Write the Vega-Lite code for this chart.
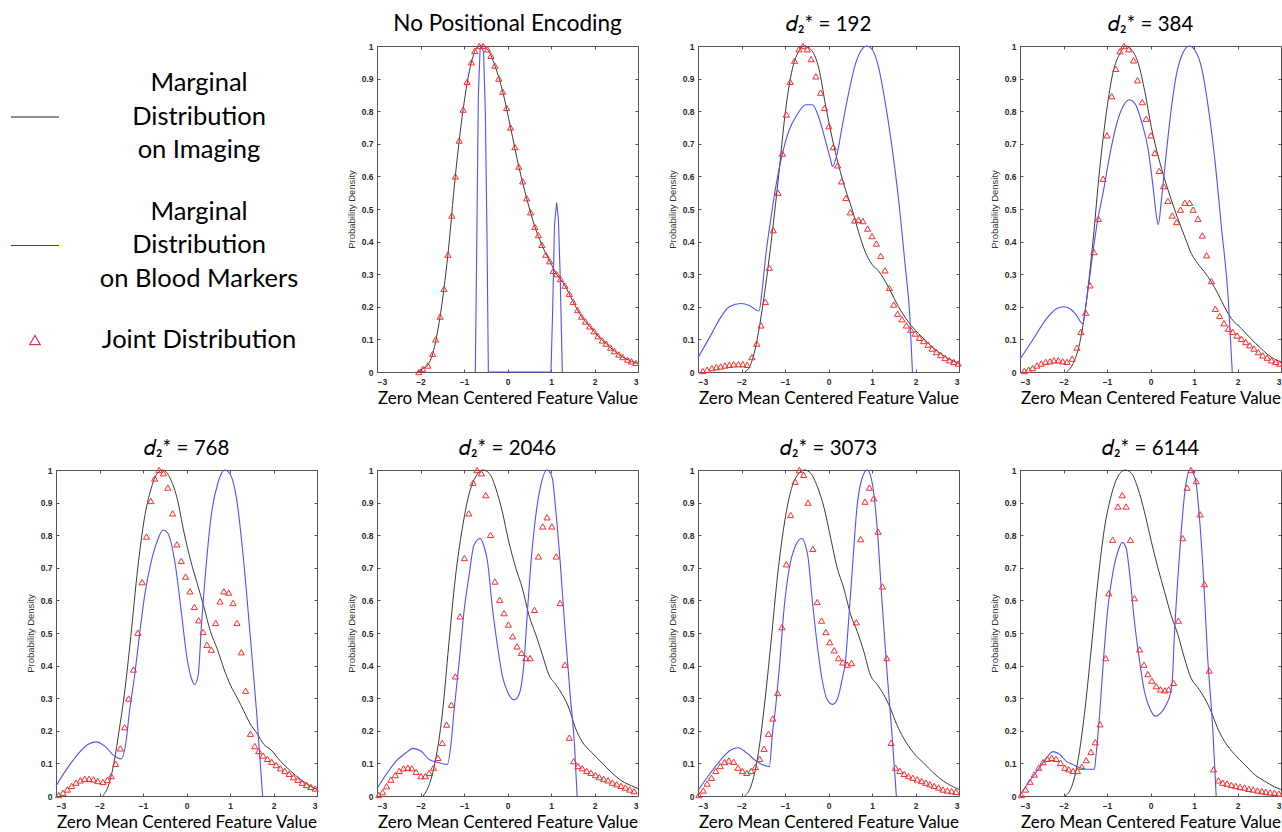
{
"$schema": "https://vega.github.io/schema/vega-lite/v6.json",
"padding": {"left": 8, "top": 12, "right": 0, "bottom": 0},
"background": "white",
"config": {
  "font": "Liberation Sans",
  "view": {"stroke": "#555555", "strokeWidth": 1},
  "axis": {"grid": false, "domain": false, "ticks": true, "tickSize": -3, "tickColor": "#555555", "labelFont": "Liberation Sans", "labelFontSize": 8.5, "labelFontWeight": "bold", "labelColor": "#2a2a2a"},
  "axisX": {"labelPadding": 8, "titleFont": "Lato", "titleFontSize": 17, "titleFontWeight": "normal", "titleColor": "#000000", "titlePadding": 5},
  "axisY": {"labelPadding": 7, "titleFont": "Liberation Sans", "titleFontSize": 9.5, "titleFontWeight": "normal", "titleColor": "#333333", "titlePadding": 5},
  "title": {"font": "Lato", "fontSize": 20.5, "fontWeight": "normal", "color": "#000000", "offset": 6}
},
"datasets": {
"legend": [{"key":"Imaging","label":"Marginal|Distribution|on Imaging"},{"key":"Blood","label":"Marginal|Distribution|on Blood Markers"},{"key":"Joint","label":"Joint Distribution"}],
"p1_img": [{"x":-2.06,"y":0},{"x":-1.95,"y":0.01},{"x":-1.83,"y":0.022},{"x":-1.72,"y":0.056},{"x":-1.55,"y":0.17},{"x":-1.37,"y":0.36},{"x":-1.2,"y":0.6},{"x":-1.02,"y":0.805},{"x":-0.83,"y":0.95},{"x":-0.7,"y":0.995},{"x":-0.6,"y":1.0},{"x":-0.46,"y":0.99},{"x":-0.29,"y":0.94},{"x":-0.11,"y":0.86},{"x":0.07,"y":0.75},{"x":0.26,"y":0.63},{"x":0.44,"y":0.533},{"x":0.63,"y":0.445},{"x":0.79,"y":0.39},{"x":0.97,"y":0.34},{"x":1.13,"y":0.3},{"x":1.32,"y":0.265},{"x":1.51,"y":0.215},{"x":1.7,"y":0.17},{"x":1.89,"y":0.14},{"x":2.08,"y":0.11},{"x":2.27,"y":0.087},{"x":2.46,"y":0.064},{"x":2.65,"y":0.046},{"x":2.85,"y":0.033},{"x":3.0,"y":0.026}],
"p1_blood": [{"x":-0.74,"y":0},{"x":-0.71,"y":0.35},{"x":-0.67,"y":0.85},{"x":-0.63,"y":0.99},{"x":-0.59,"y":1.0},{"x":-0.55,"y":0.98},{"x":-0.51,"y":0.8},{"x":-0.47,"y":0.4},{"x":-0.44,"y":0},{"x":1.0,"y":0},{"x":1.04,"y":0.2},{"x":1.08,"y":0.45},{"x":1.13,"y":0.52},{"x":1.17,"y":0.47},{"x":1.21,"y":0.3},{"x":1.26,"y":0}],
"p1_joint": [{"x":-2.04,"y":0},{"x":-1.95,"y":0.01},{"x":-1.83,"y":0.02},{"x":-1.72,"y":0.056},{"x":-1.65,"y":0.1},{"x":-1.55,"y":0.17},{"x":-1.46,"y":0.255},{"x":-1.37,"y":0.36},{"x":-1.28,"y":0.48},{"x":-1.2,"y":0.6},{"x":-1.11,"y":0.71},{"x":-1.02,"y":0.805},{"x":-0.93,"y":0.89},{"x":-0.83,"y":0.95},{"x":-0.75,"y":0.985},{"x":-0.65,"y":1.0},{"x":-0.56,"y":1.0},{"x":-0.46,"y":0.99},{"x":-0.38,"y":0.97},{"x":-0.29,"y":0.94},{"x":-0.2,"y":0.9},{"x":-0.11,"y":0.86},{"x":-0.02,"y":0.81},{"x":0.07,"y":0.75},{"x":0.17,"y":0.69},{"x":0.26,"y":0.63},{"x":0.35,"y":0.585},{"x":0.44,"y":0.533},{"x":0.53,"y":0.49},{"x":0.63,"y":0.445},{"x":0.71,"y":0.42},{"x":0.79,"y":0.39},{"x":0.88,"y":0.36},{"x":0.97,"y":0.34},{"x":1.05,"y":0.31},{"x":1.13,"y":0.3},{"x":1.22,"y":0.285},{"x":1.32,"y":0.265},{"x":1.42,"y":0.24},{"x":1.51,"y":0.215},{"x":1.61,"y":0.19},{"x":1.7,"y":0.17},{"x":1.79,"y":0.155},{"x":1.89,"y":0.14},{"x":1.99,"y":0.125},{"x":2.08,"y":0.11},{"x":2.18,"y":0.097},{"x":2.27,"y":0.087},{"x":2.37,"y":0.075},{"x":2.46,"y":0.064},{"x":2.56,"y":0.054},{"x":2.65,"y":0.046},{"x":2.76,"y":0.038},{"x":2.85,"y":0.033},{"x":2.95,"y":0.028}],
"p2_img": [{"x":-1.93,"y":0},{"x":-1.8,"y":0.02},{"x":-1.67,"y":0.08},{"x":-1.55,"y":0.17},{"x":-1.44,"y":0.27},{"x":-1.29,"y":0.43},{"x":-1.14,"y":0.61},{"x":-0.99,"y":0.8},{"x":-0.83,"y":0.93},{"x":-0.68,"y":0.985},{"x":-0.55,"y":1.0},{"x":-0.41,"y":0.99},{"x":-0.22,"y":0.93},{"x":-0.07,"y":0.82},{"x":0.08,"y":0.72},{"x":0.24,"y":0.63},{"x":0.39,"y":0.56},{"x":0.54,"y":0.5},{"x":0.69,"y":0.43},{"x":0.84,"y":0.37},{"x":1.0,"y":0.33},{"x":1.15,"y":0.31},{"x":1.38,"y":0.26},{"x":1.61,"y":0.2},{"x":1.84,"y":0.153},{"x":2.07,"y":0.118},{"x":2.3,"y":0.087},{"x":2.53,"y":0.061},{"x":2.76,"y":0.041},{"x":3.0,"y":0.026}],
"p2_blood": [{"x":-3,"y":0.044},{"x":-2.73,"y":0.107},{"x":-2.47,"y":0.169},{"x":-2.28,"y":0.2},{"x":-2.01,"y":0.21},{"x":-1.82,"y":0.204},{"x":-1.6,"y":0.187},{"x":-1.51,"y":0.27},{"x":-1.44,"y":0.36},{"x":-1.32,"y":0.475},{"x":-1.21,"y":0.57},{"x":-1.06,"y":0.67},{"x":-0.91,"y":0.74},{"x":-0.72,"y":0.79},{"x":-0.52,"y":0.82},{"x":-0.37,"y":0.82},{"x":-0.22,"y":0.78},{"x":-0.07,"y":0.71},{"x":0.05,"y":0.65},{"x":0.09,"y":0.63},{"x":0.2,"y":0.67},{"x":0.31,"y":0.75},{"x":0.47,"y":0.86},{"x":0.62,"y":0.945},{"x":0.77,"y":0.99},{"x":0.88,"y":1.0},{"x":1.0,"y":0.99},{"x":1.15,"y":0.935},{"x":1.3,"y":0.83},{"x":1.46,"y":0.69},{"x":1.61,"y":0.53},{"x":1.76,"y":0.33},{"x":1.87,"y":0.17},{"x":1.93,"y":0}],
"p2_joint": [{"x":-2.89,"y":0.003},{"x":-2.79,"y":0.007},{"x":-2.68,"y":0.012},{"x":-2.58,"y":0.015},{"x":-2.48,"y":0.017},{"x":-2.38,"y":0.02},{"x":-2.28,"y":0.022},{"x":-2.18,"y":0.024},{"x":-2.07,"y":0.024},{"x":-1.97,"y":0.024},{"x":-1.87,"y":0.022},{"x":-1.76,"y":0.046},{"x":-1.65,"y":0.087},{"x":-1.55,"y":0.143},{"x":-1.45,"y":0.215},{"x":-1.36,"y":0.32},{"x":-1.27,"y":0.435},{"x":-1.16,"y":0.55},{"x":-1.06,"y":0.67},{"x":-0.97,"y":0.79},{"x":-0.88,"y":0.89},{"x":-0.78,"y":0.955},{"x":-0.68,"y":0.99},{"x":-0.59,"y":1.0},{"x":-0.49,"y":0.99},{"x":-0.4,"y":0.96},{"x":-0.29,"y":0.907},{"x":-0.18,"y":0.857},{"x":-0.09,"y":0.81},{"x":0.01,"y":0.754},{"x":0.11,"y":0.69},{"x":0.21,"y":0.634},{"x":0.3,"y":0.585},{"x":0.4,"y":0.534},{"x":0.5,"y":0.49},{"x":0.6,"y":0.465},{"x":0.69,"y":0.467},{"x":0.79,"y":0.463},{"x":0.9,"y":0.44},{"x":1.0,"y":0.417},{"x":1.1,"y":0.394},{"x":1.2,"y":0.356},{"x":1.3,"y":0.312},{"x":1.4,"y":0.258},{"x":1.5,"y":0.207},{"x":1.59,"y":0.179},{"x":1.69,"y":0.162},{"x":1.79,"y":0.143},{"x":1.89,"y":0.13},{"x":1.99,"y":0.118},{"x":2.09,"y":0.105},{"x":2.19,"y":0.095},{"x":2.29,"y":0.084},{"x":2.38,"y":0.072},{"x":2.48,"y":0.061},{"x":2.58,"y":0.052},{"x":2.68,"y":0.043},{"x":2.78,"y":0.036},{"x":2.88,"y":0.031},{"x":2.98,"y":0.026}],
"p3_img": [{"x":-1.93,"y":0},{"x":-1.78,"y":0.026},{"x":-1.63,"y":0.087},{"x":-1.47,"y":0.22},{"x":-1.32,"y":0.404},{"x":-1.17,"y":0.62},{"x":-1.01,"y":0.8},{"x":-0.86,"y":0.92},{"x":-0.71,"y":0.975},{"x":-0.56,"y":1.0},{"x":-0.44,"y":0.99},{"x":-0.28,"y":0.946},{"x":-0.13,"y":0.86},{"x":0.02,"y":0.75},{"x":0.18,"y":0.66},{"x":0.33,"y":0.59},{"x":0.48,"y":0.527},{"x":0.63,"y":0.47},{"x":0.79,"y":0.414},{"x":0.94,"y":0.363},{"x":1.09,"y":0.332},{"x":1.24,"y":0.307},{"x":1.4,"y":0.276},{"x":1.55,"y":0.24},{"x":1.7,"y":0.2},{"x":1.86,"y":0.164},{"x":2.09,"y":0.133},{"x":2.31,"y":0.102},{"x":2.54,"y":0.072},{"x":2.77,"y":0.046},{"x":3.0,"y":0.031}],
"p3_blood": [{"x":-3,"y":0.039},{"x":-2.69,"y":0.102},{"x":-2.39,"y":0.164},{"x":-2.16,"y":0.194},{"x":-2.0,"y":0.2},{"x":-1.85,"y":0.194},{"x":-1.7,"y":0.174},{"x":-1.56,"y":0.148},{"x":-1.47,"y":0.22},{"x":-1.35,"y":0.34},{"x":-1.24,"y":0.445},{"x":-1.08,"y":0.557},{"x":-0.93,"y":0.67},{"x":-0.78,"y":0.76},{"x":-0.63,"y":0.815},{"x":-0.49,"y":0.835},{"x":-0.36,"y":0.824},{"x":-0.21,"y":0.77},{"x":-0.05,"y":0.68},{"x":0.06,"y":0.567},{"x":0.14,"y":0.475},{"x":0.18,"y":0.452},{"x":0.25,"y":0.527},{"x":0.37,"y":0.68},{"x":0.48,"y":0.81},{"x":0.6,"y":0.915},{"x":0.75,"y":0.98},{"x":0.89,"y":1.0},{"x":1.02,"y":0.987},{"x":1.18,"y":0.93},{"x":1.33,"y":0.81},{"x":1.48,"y":0.65},{"x":1.63,"y":0.445},{"x":1.79,"y":0.22},{"x":1.88,"y":0}],
"p3_joint": [{"x":-2.9,"y":0.003},{"x":-2.8,"y":0.007},{"x":-2.71,"y":0.012},{"x":-2.61,"y":0.02},{"x":-2.51,"y":0.026},{"x":-2.41,"y":0.031},{"x":-2.31,"y":0.033},{"x":-2.22,"y":0.036},{"x":-2.12,"y":0.036},{"x":-2.02,"y":0.033},{"x":-1.92,"y":0.031},{"x":-1.8,"y":0.041},{"x":-1.69,"y":0.075},{"x":-1.6,"y":0.123},{"x":-1.49,"y":0.182},{"x":-1.39,"y":0.266},{"x":-1.3,"y":0.368},{"x":-1.2,"y":0.47},{"x":-1.09,"y":0.593},{"x":-1.0,"y":0.726},{"x":-0.89,"y":0.846},{"x":-0.8,"y":0.93},{"x":-0.7,"y":0.984},{"x":-0.61,"y":1.0},{"x":-0.5,"y":0.99},{"x":-0.39,"y":0.956},{"x":-0.3,"y":0.895},{"x":-0.19,"y":0.828},{"x":-0.1,"y":0.777},{"x":0.01,"y":0.726},{"x":0.1,"y":0.672},{"x":0.2,"y":0.617},{"x":0.3,"y":0.57},{"x":0.4,"y":0.525},{"x":0.5,"y":0.48},{"x":0.6,"y":0.46},{"x":0.69,"y":0.498},{"x":0.79,"y":0.519},{"x":0.9,"y":0.519},{"x":0.98,"y":0.498},{"x":1.09,"y":0.47},{"x":1.19,"y":0.419},{"x":1.29,"y":0.358},{"x":1.4,"y":0.279},{"x":1.49,"y":0.194},{"x":1.59,"y":0.172},{"x":1.69,"y":0.15},{"x":1.79,"y":0.133},{"x":1.89,"y":0.123},{"x":1.99,"y":0.112},{"x":2.09,"y":0.102},{"x":2.19,"y":0.092},{"x":2.28,"y":0.082},{"x":2.38,"y":0.072},{"x":2.48,"y":0.061},{"x":2.58,"y":0.051},{"x":2.68,"y":0.044},{"x":2.78,"y":0.036},{"x":2.88,"y":0.031},{"x":2.97,"y":0.026}],
"p4_img": [{"x":-1.93,"y":0},{"x":-1.8,"y":0.03},{"x":-1.66,"y":0.107},{"x":-1.55,"y":0.2},{"x":-1.43,"y":0.31},{"x":-1.28,"y":0.49},{"x":-1.12,"y":0.7},{"x":-0.97,"y":0.85},{"x":-0.82,"y":0.94},{"x":-0.67,"y":0.99},{"x":-0.55,"y":1.0},{"x":-0.36,"y":0.97},{"x":-0.21,"y":0.91},{"x":-0.06,"y":0.81},{"x":0.1,"y":0.72},{"x":0.25,"y":0.65},{"x":0.4,"y":0.58},{"x":0.55,"y":0.505},{"x":0.71,"y":0.45},{"x":0.86,"y":0.39},{"x":1.01,"y":0.34},{"x":1.17,"y":0.3},{"x":1.32,"y":0.26},{"x":1.47,"y":0.22},{"x":1.63,"y":0.19},{"x":1.78,"y":0.158},{"x":1.93,"y":0.143},{"x":2.16,"y":0.107},{"x":2.39,"y":0.077},{"x":2.62,"y":0.051},{"x":2.85,"y":0.03},{"x":3.0,"y":0.02}],
"p4_blood": [{"x":-3,"y":0.031},{"x":-2.73,"y":0.087},{"x":-2.5,"y":0.128},{"x":-2.27,"y":0.158},{"x":-2.08,"y":0.166},{"x":-1.88,"y":0.153},{"x":-1.65,"y":0.122},{"x":-1.5,"y":0.114},{"x":-1.4,"y":0.158},{"x":-1.31,"y":0.26},{"x":-1.19,"y":0.372},{"x":-1.08,"y":0.495},{"x":-0.96,"y":0.617},{"x":-0.81,"y":0.72},{"x":-0.66,"y":0.786},{"x":-0.54,"y":0.816},{"x":-0.43,"y":0.806},{"x":-0.27,"y":0.72},{"x":-0.12,"y":0.566},{"x":0.0,"y":0.434},{"x":0.11,"y":0.362},{"x":0.19,"y":0.342},{"x":0.27,"y":0.372},{"x":0.34,"y":0.515},{"x":0.46,"y":0.72},{"x":0.57,"y":0.862},{"x":0.73,"y":0.964},{"x":0.88,"y":1.0},{"x":0.99,"y":0.99},{"x":1.15,"y":0.913},{"x":1.3,"y":0.74},{"x":1.45,"y":0.515},{"x":1.61,"y":0.26},{"x":1.75,"y":0}],
"p4_joint": [{"x":-2.94,"y":0.003},{"x":-2.84,"y":0.01},{"x":-2.74,"y":0.02},{"x":-2.64,"y":0.031},{"x":-2.54,"y":0.041},{"x":-2.44,"y":0.048},{"x":-2.34,"y":0.053},{"x":-2.24,"y":0.053},{"x":-2.14,"y":0.051},{"x":-2.04,"y":0.046},{"x":-1.92,"y":0.043},{"x":-1.82,"y":0.049},{"x":-1.73,"y":0.061},{"x":-1.63,"y":0.099},{"x":-1.52,"y":0.146},{"x":-1.42,"y":0.211},{"x":-1.33,"y":0.299},{"x":-1.22,"y":0.388},{"x":-1.12,"y":0.501},{"x":-1.02,"y":0.656},{"x":-0.92,"y":0.796},{"x":-0.82,"y":0.905},{"x":-0.73,"y":0.974},{"x":-0.63,"y":1.0},{"x":-0.53,"y":0.99},{"x":-0.43,"y":0.946},{"x":-0.32,"y":0.867},{"x":-0.22,"y":0.772},{"x":-0.12,"y":0.721},{"x":-0.02,"y":0.673},{"x":0.08,"y":0.628},{"x":0.18,"y":0.58},{"x":0.28,"y":0.539},{"x":0.38,"y":0.503},{"x":0.47,"y":0.464},{"x":0.57,"y":0.449},{"x":0.67,"y":0.531},{"x":0.77,"y":0.597},{"x":0.86,"y":0.628},{"x":0.97,"y":0.624},{"x":1.07,"y":0.592},{"x":1.16,"y":0.531},{"x":1.26,"y":0.441},{"x":1.36,"y":0.323},{"x":1.47,"y":0.191},{"x":1.57,"y":0.153},{"x":1.66,"y":0.138},{"x":1.76,"y":0.124},{"x":1.86,"y":0.114},{"x":1.96,"y":0.105},{"x":2.06,"y":0.095},{"x":2.16,"y":0.085},{"x":2.26,"y":0.077},{"x":2.36,"y":0.068},{"x":2.46,"y":0.058},{"x":2.56,"y":0.05},{"x":2.66,"y":0.041},{"x":2.76,"y":0.034},{"x":2.86,"y":0.028},{"x":2.96,"y":0.023}],
"p5_img": [{"x":-1.94,"y":0},{"x":-1.81,"y":0.031},{"x":-1.66,"y":0.107},{"x":-1.5,"y":0.25},{"x":-1.35,"y":0.464},{"x":-1.2,"y":0.668},{"x":-1.04,"y":0.82},{"x":-0.89,"y":0.923},{"x":-0.74,"y":0.977},{"x":-0.57,"y":1.0},{"x":-0.42,"y":0.99},{"x":-0.27,"y":0.944},{"x":-0.12,"y":0.872},{"x":0.03,"y":0.78},{"x":0.19,"y":0.7},{"x":0.34,"y":0.638},{"x":0.49,"y":0.556},{"x":0.65,"y":0.495},{"x":0.8,"y":0.434},{"x":0.95,"y":0.372},{"x":1.11,"y":0.342},{"x":1.26,"y":0.311},{"x":1.41,"y":0.27},{"x":1.56,"y":0.209},{"x":1.71,"y":0.168},{"x":1.94,"y":0.133},{"x":2.17,"y":0.102},{"x":2.4,"y":0.071},{"x":2.63,"y":0.046},{"x":2.86,"y":0.031},{"x":3.0,"y":0.023}],
"p5_blood": [{"x":-3,"y":0.023},{"x":-2.79,"y":0.066},{"x":-2.56,"y":0.107},{"x":-2.33,"y":0.133},{"x":-2.18,"y":0.146},{"x":-1.99,"y":0.138},{"x":-1.8,"y":0.112},{"x":-1.57,"y":0.102},{"x":-1.38,"y":0.097},{"x":-1.3,"y":0.158},{"x":-1.23,"y":0.26},{"x":-1.11,"y":0.413},{"x":-1.0,"y":0.566},{"x":-0.88,"y":0.68},{"x":-0.77,"y":0.77},{"x":-0.63,"y":0.79},{"x":-0.55,"y":0.77},{"x":-0.46,"y":0.72},{"x":-0.35,"y":0.58},{"x":-0.23,"y":0.46},{"x":-0.12,"y":0.37},{"x":0.0,"y":0.32},{"x":0.15,"y":0.295},{"x":0.26,"y":0.31},{"x":0.33,"y":0.35},{"x":0.38,"y":0.41},{"x":0.45,"y":0.55},{"x":0.53,"y":0.7},{"x":0.65,"y":0.86},{"x":0.76,"y":0.95},{"x":0.91,"y":1.0},{"x":1.03,"y":0.975},{"x":1.1,"y":0.89},{"x":1.21,"y":0.72},{"x":1.32,"y":0.515},{"x":1.44,"y":0.311},{"x":1.54,"y":0.158},{"x":1.6,"y":0}],
"p5_joint": [{"x":-2.96,"y":0.003},{"x":-2.87,"y":0.012},{"x":-2.78,"y":0.03},{"x":-2.68,"y":0.05},{"x":-2.58,"y":0.064},{"x":-2.49,"y":0.077},{"x":-2.39,"y":0.085},{"x":-2.29,"y":0.087},{"x":-2.2,"y":0.085},{"x":-2.1,"y":0.074},{"x":-1.99,"y":0.061},{"x":-1.89,"y":0.061},{"x":-1.8,"y":0.071},{"x":-1.7,"y":0.087},{"x":-1.6,"y":0.117},{"x":-1.5,"y":0.163},{"x":-1.4,"y":0.219},{"x":-1.29,"y":0.28},{"x":-1.2,"y":0.367},{"x":-1.09,"y":0.551},{"x":-0.99,"y":0.73},{"x":-0.89,"y":0.867},{"x":-0.79,"y":0.961},{"x":-0.7,"y":1.0},{"x":-0.6,"y":0.99},{"x":-0.5,"y":0.923},{"x":-0.39,"y":0.801},{"x":-0.29,"y":0.658},{"x":-0.18,"y":0.602},{"x":-0.08,"y":0.561},{"x":0.02,"y":0.526},{"x":0.12,"y":0.49},{"x":0.22,"y":0.459},{"x":0.32,"y":0.439},{"x":0.42,"y":0.423},{"x":0.52,"y":0.423},{"x":0.62,"y":0.571},{"x":0.71,"y":0.735},{"x":0.81,"y":0.827},{"x":0.91,"y":0.855},{"x":1.02,"y":0.827},{"x":1.12,"y":0.735},{"x":1.21,"y":0.592},{"x":1.32,"y":0.403},{"x":1.42,"y":0.179},{"x":1.52,"y":0.107},{"x":1.62,"y":0.092},{"x":1.72,"y":0.085},{"x":1.82,"y":0.077},{"x":1.92,"y":0.071},{"x":2.02,"y":0.064},{"x":2.11,"y":0.058},{"x":2.21,"y":0.053},{"x":2.31,"y":0.048},{"x":2.41,"y":0.041},{"x":2.51,"y":0.036},{"x":2.61,"y":0.031},{"x":2.71,"y":0.026},{"x":2.81,"y":0.02},{"x":2.91,"y":0.015}],
"p6_img": [{"x":-1.93,"y":0},{"x":-1.78,"y":0.031},{"x":-1.63,"y":0.117},{"x":-1.48,"y":0.27},{"x":-1.32,"y":0.474},{"x":-1.17,"y":0.678},{"x":-1.02,"y":0.831},{"x":-0.87,"y":0.934},{"x":-0.71,"y":0.985},{"x":-0.55,"y":1.0},{"x":-0.41,"y":0.99},{"x":-0.26,"y":0.95},{"x":-0.1,"y":0.883},{"x":0.05,"y":0.791},{"x":0.2,"y":0.7},{"x":0.35,"y":0.638},{"x":0.51,"y":0.556},{"x":0.66,"y":0.505},{"x":0.81,"y":0.444},{"x":0.96,"y":0.372},{"x":1.12,"y":0.342},{"x":1.27,"y":0.311},{"x":1.42,"y":0.27},{"x":1.57,"y":0.219},{"x":1.72,"y":0.179},{"x":1.95,"y":0.133},{"x":2.18,"y":0.102},{"x":2.41,"y":0.071},{"x":2.64,"y":0.046},{"x":2.87,"y":0.028},{"x":3.0,"y":0.02}],
"p6_blood": [{"x":-3,"y":0.017},{"x":-2.74,"y":0.066},{"x":-2.5,"y":0.107},{"x":-2.28,"y":0.138},{"x":-2.08,"y":0.148},{"x":-1.89,"y":0.133},{"x":-1.66,"y":0.107},{"x":-1.36,"y":0.09},{"x":-1.29,"y":0.189},{"x":-1.21,"y":0.28},{"x":-1.13,"y":0.393},{"x":-1.02,"y":0.577},{"x":-0.9,"y":0.7},{"x":-0.75,"y":0.77},{"x":-0.62,"y":0.79},{"x":-0.48,"y":0.74},{"x":-0.37,"y":0.597},{"x":-0.26,"y":0.464},{"x":-0.14,"y":0.352},{"x":-0.03,"y":0.296},{"x":0.09,"y":0.281},{"x":0.2,"y":0.296},{"x":0.32,"y":0.362},{"x":0.39,"y":0.413},{"x":0.45,"y":0.515},{"x":0.55,"y":0.7},{"x":0.66,"y":0.893},{"x":0.77,"y":0.974},{"x":0.89,"y":1.0},{"x":1.0,"y":0.964},{"x":1.12,"y":0.821},{"x":1.23,"y":0.597},{"x":1.35,"y":0.372},{"x":1.46,"y":0.189},{"x":1.56,"y":0}],
"p6_joint": [{"x":-2.98,"y":0.003},{"x":-2.88,"y":0.017},{"x":-2.79,"y":0.038},{"x":-2.69,"y":0.056},{"x":-2.59,"y":0.077},{"x":-2.49,"y":0.092},{"x":-2.39,"y":0.104},{"x":-2.29,"y":0.109},{"x":-2.18,"y":0.105},{"x":-2.08,"y":0.087},{"x":-1.98,"y":0.077},{"x":-1.88,"y":0.071},{"x":-1.78,"y":0.077},{"x":-1.68,"y":0.089},{"x":-1.58,"y":0.114},{"x":-1.48,"y":0.145},{"x":-1.38,"y":0.191},{"x":-1.28,"y":0.238},{"x":-1.17,"y":0.316},{"x":-1.07,"y":0.518},{"x":-0.97,"y":0.711},{"x":-0.87,"y":0.862},{"x":-0.77,"y":0.964},{"x":-0.67,"y":1.0},{"x":-0.57,"y":0.985},{"x":-0.47,"y":0.9},{"x":-0.36,"y":0.758},{"x":-0.26,"y":0.595},{"x":-0.16,"y":0.538},{"x":-0.06,"y":0.503},{"x":0.03,"y":0.472},{"x":0.13,"y":0.447},{"x":0.23,"y":0.423},{"x":0.33,"y":0.41},{"x":0.43,"y":0.403},{"x":0.53,"y":0.408},{"x":0.64,"y":0.533},{"x":0.74,"y":0.788},{"x":0.84,"y":0.903},{"x":0.94,"y":0.946},{"x":1.04,"y":0.913},{"x":1.14,"y":0.811},{"x":1.24,"y":0.643},{"x":1.34,"y":0.423},{"x":1.44,"y":0.163},{"x":1.54,"y":0.087},{"x":1.64,"y":0.077},{"x":1.74,"y":0.068},{"x":1.84,"y":0.061},{"x":1.94,"y":0.056},{"x":2.04,"y":0.051},{"x":2.14,"y":0.046},{"x":2.24,"y":0.041},{"x":2.33,"y":0.036},{"x":2.43,"y":0.031},{"x":2.53,"y":0.026},{"x":2.63,"y":0.02},{"x":2.73,"y":0.017},{"x":2.83,"y":0.015},{"x":2.93,"y":0.013}],
"p7_img": [{"x":-1.97,"y":0},{"x":-1.82,"y":0.026},{"x":-1.67,"y":0.107},{"x":-1.52,"y":0.25},{"x":-1.36,"y":0.454},{"x":-1.21,"y":0.658},{"x":-1.06,"y":0.82},{"x":-0.9,"y":0.923},{"x":-0.75,"y":0.98},{"x":-0.58,"y":1.0},{"x":-0.44,"y":0.99},{"x":-0.29,"y":0.944},{"x":-0.14,"y":0.872},{"x":0.02,"y":0.78},{"x":0.17,"y":0.7},{"x":0.32,"y":0.628},{"x":0.47,"y":0.556},{"x":0.63,"y":0.495},{"x":0.78,"y":0.423},{"x":0.93,"y":0.362},{"x":1.09,"y":0.332},{"x":1.24,"y":0.301},{"x":1.39,"y":0.26},{"x":1.54,"y":0.209},{"x":1.7,"y":0.168},{"x":1.93,"y":0.128},{"x":2.16,"y":0.097},{"x":2.39,"y":0.066},{"x":2.62,"y":0.046},{"x":2.85,"y":0.028},{"x":3.0,"y":0.02}],
"p7_blood": [{"x":-3,"y":0.003},{"x":-2.78,"y":0.046},{"x":-2.55,"y":0.087},{"x":-2.39,"y":0.117},{"x":-2.24,"y":0.136},{"x":-2.09,"y":0.128},{"x":-1.94,"y":0.107},{"x":-1.79,"y":0.097},{"x":-1.63,"y":0.087},{"x":-1.48,"y":0.082},{"x":-1.29,"y":0.082},{"x":-1.25,"y":0.128},{"x":-1.17,"y":0.25},{"x":-1.08,"y":0.42},{"x":-0.98,"y":0.577},{"x":-0.86,"y":0.69},{"x":-0.75,"y":0.75},{"x":-0.65,"y":0.778},{"x":-0.56,"y":0.76},{"x":-0.47,"y":0.67},{"x":-0.37,"y":0.536},{"x":-0.25,"y":0.413},{"x":-0.14,"y":0.321},{"x":-0.02,"y":0.27},{"x":0.11,"y":0.245},{"x":0.24,"y":0.255},{"x":0.36,"y":0.28},{"x":0.45,"y":0.311},{"x":0.5,"y":0.352},{"x":0.55,"y":0.495},{"x":0.63,"y":0.67},{"x":0.7,"y":0.801},{"x":0.8,"y":0.944},{"x":0.91,"y":1.0},{"x":1.03,"y":0.974},{"x":1.12,"y":0.862},{"x":1.22,"y":0.668},{"x":1.31,"y":0.434},{"x":1.43,"y":0.209},{"x":1.51,"y":0}],
"p7_joint": [{"x":-2.97,"y":0.003},{"x":-2.87,"y":0.02},{"x":-2.77,"y":0.044},{"x":-2.67,"y":0.066},{"x":-2.57,"y":0.087},{"x":-2.47,"y":0.104},{"x":-2.37,"y":0.114},{"x":-2.27,"y":0.117},{"x":-2.17,"y":0.114},{"x":-2.07,"y":0.102},{"x":-1.97,"y":0.087},{"x":-1.88,"y":0.082},{"x":-1.78,"y":0.077},{"x":-1.68,"y":0.077},{"x":-1.58,"y":0.09},{"x":-1.48,"y":0.11},{"x":-1.37,"y":0.135},{"x":-1.27,"y":0.165},{"x":-1.16,"y":0.22},{"x":-1.03,"y":0.423},{"x":-0.96,"y":0.622},{"x":-0.87,"y":0.786},{"x":-0.75,"y":0.888},{"x":-0.65,"y":0.923},{"x":-0.56,"y":0.888},{"x":-0.46,"y":0.786},{"x":-0.37,"y":0.607},{"x":-0.25,"y":0.45},{"x":-0.15,"y":0.403},{"x":-0.06,"y":0.374},{"x":0.03,"y":0.354},{"x":0.13,"y":0.337},{"x":0.23,"y":0.327},{"x":0.33,"y":0.324},{"x":0.42,"y":0.327},{"x":0.53,"y":0.347},{"x":0.64,"y":0.538},{"x":0.74,"y":0.791},{"x":0.84,"y":0.946},{"x":0.93,"y":1.0},{"x":1.05,"y":0.966},{"x":1.14,"y":0.864},{"x":1.24,"y":0.65},{"x":1.35,"y":0.385},{"x":1.45,"y":0.082},{"x":1.56,"y":0.048},{"x":1.66,"y":0.041},{"x":1.76,"y":0.038},{"x":1.86,"y":0.034},{"x":1.96,"y":0.031},{"x":2.06,"y":0.028},{"x":2.16,"y":0.026},{"x":2.26,"y":0.022},{"x":2.36,"y":0.02},{"x":2.46,"y":0.017},{"x":2.56,"y":0.015},{"x":2.65,"y":0.013},{"x":2.75,"y":0.011},{"x":2.85,"y":0.01},{"x":2.95,"y":0.008}]
},
"columns": 4,
"spacing": {"row": 31, "column": 24},
"concat": [
{
  "width": 164, "height": 257,
  "view": {"stroke": null},
  "data": {"name": "legend"},
  "encoding": {
    "y": {"field": "key", "type": "nominal", "scale": {"type": "point", "domain": ["Imaging", "Blood", "Joint"], "padding": 0}, "axis": null}
  },
  "layer": [
    {"transform": [{"filter": "datum.key == 'Imaging'"}], "mark": {"type": "point", "shape": "stroke", "size": 2304, "color": "#222222", "strokeWidth": 1.2, "opacity": 1, "xOffset": -21, "yOffset": 71}, "encoding": {"x": {"datum": "sym", "type": "nominal", "scale": {"type": "point", "domain": ["sym", "lab"], "padding": 0}, "axis": null}}},
    {"transform": [{"filter": "datum.key == 'Blood'"}], "mark": {"type": "point", "shape": "stroke", "size": 2304, "color": "#3a3ac8", "strokeWidth": 1.2, "opacity": 1, "xOffset": -21, "yOffset": 71}, "encoding": {"x": {"datum": "sym", "type": "nominal"}}},
    {"transform": [{"filter": "datum.key == 'Joint'"}], "mark": {"type": "point", "shape": "triangle-up", "filled": false, "size": 110, "color": "#d6344f", "strokeWidth": 1.2, "opacity": 1, "xOffset": -21, "yOffset": 37}, "encoding": {"x": {"datum": "sym", "type": "nominal"}}},
    {"mark": {"type": "text", "font": "Lato", "fontSize": 25.5, "lineBreak": "|", "lineHeight": 33.5, "baseline": "top", "align": "center", "color": "#000000", "xOffset": -21, "yOffset": 25}, "encoding": {"x": {"datum": "lab", "type": "nominal"}, "text": {"field": "label"}}}
  ]
},
{
  "title": {"text": "No Positional Encoding", "fontSize": 22.5},
  "width": 261, "height": 326,
  "resolve": {"axis": {"x": "independent", "y": "independent"}},
  "encoding": {
    "x": {"field": "x", "type": "quantitative", "title": "Zero Mean Centered Feature Value", "scale": {"domain": [-3, 3], "nice": false}, "axis": {"values": [-3, -2, -1, 0, 1, 2, 3]}},
    "y": {"field": "y", "type": "quantitative", "title": "Probability Density", "scale": {"domain": [0, 1], "nice": false}, "axis": {"values": [0, 0.1, 0.2, 0.3, 0.4, 0.5, 0.6, 0.7, 0.8, 0.9, 1], "format": ".1~f"}}
  },
  "layer": [
    {"data": {"name": "p1_img"}, "mark": {"type": "line", "color": "#3a3a3a", "strokeWidth": 1, "interpolate": "monotone"}},
    {"data": {"name": "p1_blood"}, "mark": {"type": "line", "color": "#5050ff", "strokeWidth": 1.1, "interpolate": "linear"},
     "encoding": {"x": {"field": "x", "type": "quantitative", "scale": {"domain": [-3, 3], "nice": false}, "axis": {"orient": "top", "labels": false, "title": null, "values": [-3, -2, -1, 0, 1, 2, 3]}}, "y": {"field": "y", "type": "quantitative", "scale": {"domain": [0, 1], "nice": false}, "axis": {"orient": "right", "labels": false, "title": null, "values": [0, 0.1, 0.2, 0.3, 0.4, 0.5, 0.6, 0.7, 0.8, 0.9, 1]}}}},
    {"data": {"name": "p1_joint"}, "mark": {"type": "point", "shape": "triangle-up", "filled": false, "color": "#ff2b2b", "size": 38, "strokeWidth": 1, "opacity": 1},
     "encoding": {"x": {"field": "x", "type": "quantitative", "scale": {"domain": [-3, 3], "nice": false}, "axis": null}, "y": {"field": "y", "type": "quantitative", "scale": {"domain": [0, 1], "nice": false}, "axis": null}}}
  ]
},
{
  "title": "𝑑₂* = 192",
  "width": 261, "height": 326,
  "resolve": {"axis": {"x": "independent", "y": "independent"}},
  "encoding": {
    "x": {"field": "x", "type": "quantitative", "title": "Zero Mean Centered Feature Value", "scale": {"domain": [-3, 3], "nice": false}, "axis": {"values": [-3, -2, -1, 0, 1, 2, 3]}},
    "y": {"field": "y", "type": "quantitative", "title": "Probability Density", "scale": {"domain": [0, 1], "nice": false}, "axis": {"values": [0, 0.1, 0.2, 0.3, 0.4, 0.5, 0.6, 0.7, 0.8, 0.9, 1], "format": ".1~f"}}
  },
  "layer": [
    {"data": {"name": "p2_img"}, "mark": {"type": "line", "color": "#3a3a3a", "strokeWidth": 1, "interpolate": "monotone"}},
    {"data": {"name": "p2_blood"}, "mark": {"type": "line", "color": "#5050ff", "strokeWidth": 1.1, "interpolate": "monotone"},
     "encoding": {"x": {"field": "x", "type": "quantitative", "scale": {"domain": [-3, 3], "nice": false}, "axis": {"orient": "top", "labels": false, "title": null, "values": [-3, -2, -1, 0, 1, 2, 3]}}, "y": {"field": "y", "type": "quantitative", "scale": {"domain": [0, 1], "nice": false}, "axis": {"orient": "right", "labels": false, "title": null, "values": [0, 0.1, 0.2, 0.3, 0.4, 0.5, 0.6, 0.7, 0.8, 0.9, 1]}}}},
    {"data": {"name": "p2_joint"}, "mark": {"type": "point", "shape": "triangle-up", "filled": false, "color": "#ff2b2b", "size": 38, "strokeWidth": 1, "opacity": 1},
     "encoding": {"x": {"field": "x", "type": "quantitative", "scale": {"domain": [-3, 3], "nice": false}, "axis": null}, "y": {"field": "y", "type": "quantitative", "scale": {"domain": [0, 1], "nice": false}, "axis": null}}}
  ]
},
{
  "title": "𝑑₂* = 384",
  "width": 261, "height": 326,
  "resolve": {"axis": {"x": "independent", "y": "independent"}},
  "encoding": {
    "x": {"field": "x", "type": "quantitative", "title": "Zero Mean Centered Feature Value", "scale": {"domain": [-3, 3], "nice": false}, "axis": {"values": [-3, -2, -1, 0, 1, 2, 3]}},
    "y": {"field": "y", "type": "quantitative", "title": "Probability Density", "scale": {"domain": [0, 1], "nice": false}, "axis": {"values": [0, 0.1, 0.2, 0.3, 0.4, 0.5, 0.6, 0.7, 0.8, 0.9, 1], "format": ".1~f"}}
  },
  "layer": [
    {"data": {"name": "p3_img"}, "mark": {"type": "line", "color": "#3a3a3a", "strokeWidth": 1, "interpolate": "monotone"}},
    {"data": {"name": "p3_blood"}, "mark": {"type": "line", "color": "#5050ff", "strokeWidth": 1.1, "interpolate": "monotone"},
     "encoding": {"x": {"field": "x", "type": "quantitative", "scale": {"domain": [-3, 3], "nice": false}, "axis": {"orient": "top", "labels": false, "title": null, "values": [-3, -2, -1, 0, 1, 2, 3]}}, "y": {"field": "y", "type": "quantitative", "scale": {"domain": [0, 1], "nice": false}, "axis": {"orient": "right", "labels": false, "title": null, "values": [0, 0.1, 0.2, 0.3, 0.4, 0.5, 0.6, 0.7, 0.8, 0.9, 1]}}}},
    {"data": {"name": "p3_joint"}, "mark": {"type": "point", "shape": "triangle-up", "filled": false, "color": "#ff2b2b", "size": 38, "strokeWidth": 1, "opacity": 1},
     "encoding": {"x": {"field": "x", "type": "quantitative", "scale": {"domain": [-3, 3], "nice": false}, "axis": null}, "y": {"field": "y", "type": "quantitative", "scale": {"domain": [0, 1], "nice": false}, "axis": null}}}
  ]
},
{
  "title": "𝑑₂* = 768",
  "width": 261, "height": 326,
  "resolve": {"axis": {"x": "independent", "y": "independent"}},
  "encoding": {
    "x": {"field": "x", "type": "quantitative", "title": "Zero Mean Centered Feature Value", "scale": {"domain": [-3, 3], "nice": false}, "axis": {"values": [-3, -2, -1, 0, 1, 2, 3]}},
    "y": {"field": "y", "type": "quantitative", "title": "Probability Density", "scale": {"domain": [0, 1], "nice": false}, "axis": {"values": [0, 0.1, 0.2, 0.3, 0.4, 0.5, 0.6, 0.7, 0.8, 0.9, 1], "format": ".1~f"}}
  },
  "layer": [
    {"data": {"name": "p4_img"}, "mark": {"type": "line", "color": "#3a3a3a", "strokeWidth": 1, "interpolate": "monotone"}},
    {"data": {"name": "p4_blood"}, "mark": {"type": "line", "color": "#5050ff", "strokeWidth": 1.1, "interpolate": "monotone"},
     "encoding": {"x": {"field": "x", "type": "quantitative", "scale": {"domain": [-3, 3], "nice": false}, "axis": {"orient": "top", "labels": false, "title": null, "values": [-3, -2, -1, 0, 1, 2, 3]}}, "y": {"field": "y", "type": "quantitative", "scale": {"domain": [0, 1], "nice": false}, "axis": {"orient": "right", "labels": false, "title": null, "values": [0, 0.1, 0.2, 0.3, 0.4, 0.5, 0.6, 0.7, 0.8, 0.9, 1]}}}},
    {"data": {"name": "p4_joint"}, "mark": {"type": "point", "shape": "triangle-up", "filled": false, "color": "#ff2b2b", "size": 38, "strokeWidth": 1, "opacity": 1},
     "encoding": {"x": {"field": "x", "type": "quantitative", "scale": {"domain": [-3, 3], "nice": false}, "axis": null}, "y": {"field": "y", "type": "quantitative", "scale": {"domain": [0, 1], "nice": false}, "axis": null}}}
  ]
},
{
  "title": "𝑑₂* = 2046",
  "width": 261, "height": 326,
  "resolve": {"axis": {"x": "independent", "y": "independent"}},
  "encoding": {
    "x": {"field": "x", "type": "quantitative", "title": "Zero Mean Centered Feature Value", "scale": {"domain": [-3, 3], "nice": false}, "axis": {"values": [-3, -2, -1, 0, 1, 2, 3]}},
    "y": {"field": "y", "type": "quantitative", "title": "Probability Density", "scale": {"domain": [0, 1], "nice": false}, "axis": {"values": [0, 0.1, 0.2, 0.3, 0.4, 0.5, 0.6, 0.7, 0.8, 0.9, 1], "format": ".1~f"}}
  },
  "layer": [
    {"data": {"name": "p5_img"}, "mark": {"type": "line", "color": "#3a3a3a", "strokeWidth": 1, "interpolate": "monotone"}},
    {"data": {"name": "p5_blood"}, "mark": {"type": "line", "color": "#5050ff", "strokeWidth": 1.1, "interpolate": "monotone"},
     "encoding": {"x": {"field": "x", "type": "quantitative", "scale": {"domain": [-3, 3], "nice": false}, "axis": {"orient": "top", "labels": false, "title": null, "values": [-3, -2, -1, 0, 1, 2, 3]}}, "y": {"field": "y", "type": "quantitative", "scale": {"domain": [0, 1], "nice": false}, "axis": {"orient": "right", "labels": false, "title": null, "values": [0, 0.1, 0.2, 0.3, 0.4, 0.5, 0.6, 0.7, 0.8, 0.9, 1]}}}},
    {"data": {"name": "p5_joint"}, "mark": {"type": "point", "shape": "triangle-up", "filled": false, "color": "#ff2b2b", "size": 38, "strokeWidth": 1, "opacity": 1},
     "encoding": {"x": {"field": "x", "type": "quantitative", "scale": {"domain": [-3, 3], "nice": false}, "axis": null}, "y": {"field": "y", "type": "quantitative", "scale": {"domain": [0, 1], "nice": false}, "axis": null}}}
  ]
},
{
  "title": "𝑑₂* = 3073",
  "width": 261, "height": 326,
  "resolve": {"axis": {"x": "independent", "y": "independent"}},
  "encoding": {
    "x": {"field": "x", "type": "quantitative", "title": "Zero Mean Centered Feature Value", "scale": {"domain": [-3, 3], "nice": false}, "axis": {"values": [-3, -2, -1, 0, 1, 2, 3]}},
    "y": {"field": "y", "type": "quantitative", "title": "Probability Density", "scale": {"domain": [0, 1], "nice": false}, "axis": {"values": [0, 0.1, 0.2, 0.3, 0.4, 0.5, 0.6, 0.7, 0.8, 0.9, 1], "format": ".1~f"}}
  },
  "layer": [
    {"data": {"name": "p6_img"}, "mark": {"type": "line", "color": "#3a3a3a", "strokeWidth": 1, "interpolate": "monotone"}},
    {"data": {"name": "p6_blood"}, "mark": {"type": "line", "color": "#5050ff", "strokeWidth": 1.1, "interpolate": "monotone"},
     "encoding": {"x": {"field": "x", "type": "quantitative", "scale": {"domain": [-3, 3], "nice": false}, "axis": {"orient": "top", "labels": false, "title": null, "values": [-3, -2, -1, 0, 1, 2, 3]}}, "y": {"field": "y", "type": "quantitative", "scale": {"domain": [0, 1], "nice": false}, "axis": {"orient": "right", "labels": false, "title": null, "values": [0, 0.1, 0.2, 0.3, 0.4, 0.5, 0.6, 0.7, 0.8, 0.9, 1]}}}},
    {"data": {"name": "p6_joint"}, "mark": {"type": "point", "shape": "triangle-up", "filled": false, "color": "#ff2b2b", "size": 38, "strokeWidth": 1, "opacity": 1},
     "encoding": {"x": {"field": "x", "type": "quantitative", "scale": {"domain": [-3, 3], "nice": false}, "axis": null}, "y": {"field": "y", "type": "quantitative", "scale": {"domain": [0, 1], "nice": false}, "axis": null}}}
  ]
},
{
  "title": "𝑑₂* = 6144",
  "width": 261, "height": 326,
  "resolve": {"axis": {"x": "independent", "y": "independent"}},
  "encoding": {
    "x": {"field": "x", "type": "quantitative", "title": "Zero Mean Centered Feature Value", "scale": {"domain": [-3, 3], "nice": false}, "axis": {"values": [-3, -2, -1, 0, 1, 2, 3]}},
    "y": {"field": "y", "type": "quantitative", "title": "Probability Density", "scale": {"domain": [0, 1], "nice": false}, "axis": {"values": [0, 0.1, 0.2, 0.3, 0.4, 0.5, 0.6, 0.7, 0.8, 0.9, 1], "format": ".1~f"}}
  },
  "layer": [
    {"data": {"name": "p7_img"}, "mark": {"type": "line", "color": "#3a3a3a", "strokeWidth": 1, "interpolate": "monotone"}},
    {"data": {"name": "p7_blood"}, "mark": {"type": "line", "color": "#5050ff", "strokeWidth": 1.1, "interpolate": "monotone"},
     "encoding": {"x": {"field": "x", "type": "quantitative", "scale": {"domain": [-3, 3], "nice": false}, "axis": {"orient": "top", "labels": false, "title": null, "values": [-3, -2, -1, 0, 1, 2, 3]}}, "y": {"field": "y", "type": "quantitative", "scale": {"domain": [0, 1], "nice": false}, "axis": {"orient": "right", "labels": false, "title": null, "values": [0, 0.1, 0.2, 0.3, 0.4, 0.5, 0.6, 0.7, 0.8, 0.9, 1]}}}},
    {"data": {"name": "p7_joint"}, "mark": {"type": "point", "shape": "triangle-up", "filled": false, "color": "#ff2b2b", "size": 38, "strokeWidth": 1, "opacity": 1},
     "encoding": {"x": {"field": "x", "type": "quantitative", "scale": {"domain": [-3, 3], "nice": false}, "axis": null}, "y": {"field": "y", "type": "quantitative", "scale": {"domain": [0, 1], "nice": false}, "axis": null}}}
  ]
}
]
}
